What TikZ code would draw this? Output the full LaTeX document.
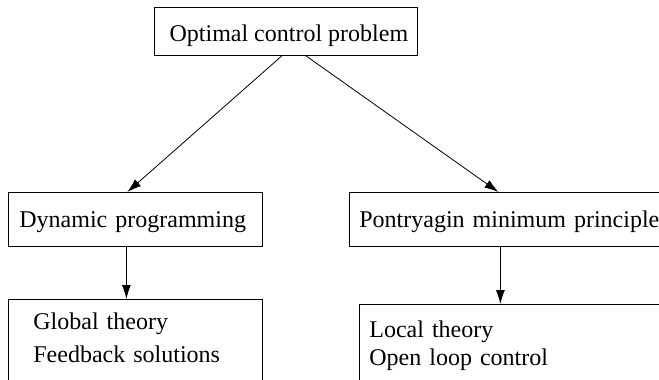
\documentclass[tikz,border=0pt]{standalone}
\usepackage{fontspec}
\setmainfont{Liberation Serif}
\usetikzlibrary{arrows.meta}
\begin{document}
\begin{tikzpicture}[x=1pt, y=-1pt, line width=0.8pt, >={Latex[length=14pt,width=9pt]},
    font=\fontsize{24}{33}\selectfont,
    hop/.style={draw, anchor=north west, align=left, text depth=2pt},
    ds/.style={anchor=north west, align=left}]
    \useasboundingbox (0,0) rectangle (659,380);
    \clip (0,0) rectangle (659,380);

    % 1. Các hộp chính
    \node[hop, align=center, inner xsep=0pt, minimum width=263pt, minimum height=48pt, text height=22pt] (ocp) at (154,7) {\hspace*{6pt}Optimal control problem};
    \node[hop, inner xsep=11pt, text width=232pt, minimum height=54pt, text height=18pt] (dp) at (8,192) {Dynamic programming};
    \node[hop, inner xsep=10pt, text width=320pt, minimum height=54pt, text height=18pt] (pmp) at (349,192) {Pontryagin minimum principle};

    % 2. Hộp hở phía dưới
    \node[ds, inner xsep=25pt, inner ysep=13.6pt, text width=204pt] (gt) at (8,299) {Global theory\\Feedback solutions};
    \node[ds, inner xsep=10pt, inner ysep=16.6pt, text width=320pt] (lt) at (359,304) {Local theory\\[-5pt]Open loop control};
    \draw (gt.north west |- 0,400) -- (gt.north west) -- (gt.north east) -- (gt.north east |- 0,400);
    \draw (lt.north west |- 0,400) -- (lt.north west) -- (lt.north east) -- (lt.north east |- 0,400);

    % 3. Các mũi tên
    \draw[->] ([xshift=-4pt]ocp.south) -- ([xshift=-8pt]dp.north);
    \draw[->] ([xshift=20pt]ocp.south) -- ([xshift=-21pt]pmp.north);
    \draw[->] ([xshift=-9pt]dp.south) -- ([xshift=-9pt]dp.south |- gt.north);
    \draw[->] ([xshift=-19pt]pmp.south) -- ([xshift=-19pt]pmp.south |- lt.north);
\end{tikzpicture}
\end{document}
